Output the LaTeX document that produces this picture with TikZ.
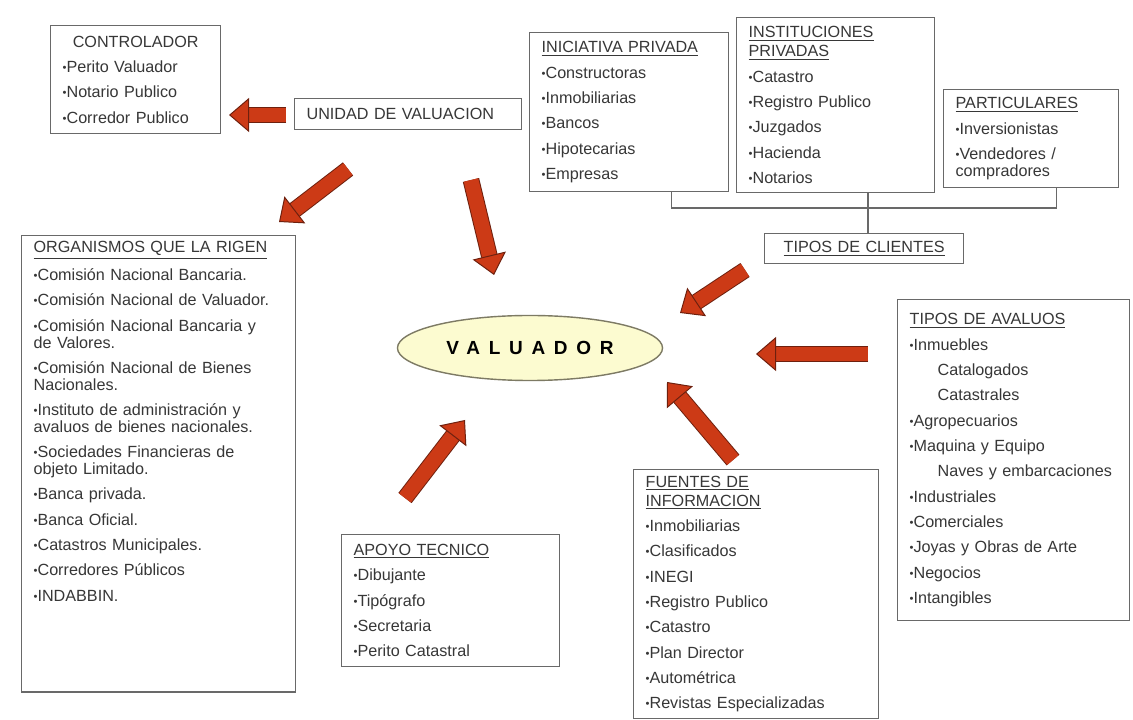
\documentclass[tikz,border=0pt]{standalone}
\usepackage{fontspec}
\setmainfont{Liberation Sans}
\newfontfamily\spacedfont[LetterSpace=46]{Liberation Sans}
\usetikzlibrary{arrows.meta,calc,shapes.geometric}
\definecolor{arrowred}{RGB}{204,58,22}
\definecolor{arrowdark}{RGB}{110,32,14}
\definecolor{boxgray}{RGB}{105,105,105}
\definecolor{textgray}{RGB}{55,55,55}
\definecolor{hubfill}{RGB}{252,251,208}
\definecolor{hubdraw}{RGB}{125,122,100}
\newlength{\itemgap}\setlength{\itemgap}{6pt}
\newcommand{\itembreak}{\\[\itemgap]}
\newcommand{\punto}{\raisebox{0.12ex}{\footnotesize\textbullet}}
\tikzstyle{listbox}=[draw=boxgray,line width=0.9pt,fill=white,anchor=north west,align=left,inner xsep=0.3cm,inner ysep=0.15cm,text=textgray,font=\fontsize{11.5}{12}\selectfont]
\tikzstyle{hubstate}=[ellipse,draw=hubdraw,line width=1pt,fill=hubfill,minimum width=6.625cm,minimum height=1.625cm]
\tikzstyle{bigarrow}=[draw=arrowdark,line width=0.7pt,double=arrowred,double distance=10.5pt,-{Triangle[length=0.5cm,width=0.85cm,fill=arrowred,line width=0.7pt]}]
\tikzstyle{plainedge}=[draw=boxgray,line width=0.9pt]
\begin{document}
\begin{tikzpicture}[x=0.025cm,y=-0.025cm]
 \useasboundingbox (0,0) rectangle (1133,720);
 \fill[white] (0,0) rectangle (1133,720);

 % centre
 \node[hubstate] (valuador) at (530,348) {\spacedfont\bfseries\fontsize{13.5}{15}\selectfont VALUADOR};

 % boxes, top row
 \node[listbox,text width=3.65cm,minimum height=2.7cm] (ctrl) at (50,25)
  {\makebox[\linewidth]{CONTROLADOR}\itembreak
   \punto Perito Valuador\itembreak
   \punto Notario Publico\itembreak
   \punto Corredor Publico};

 \node[listbox,text width=5.075cm,minimum height=0.775cm] (unidad) at (294,98) {UNIDAD DE VALUACION};

 \node[listbox,text width=4.375cm,minimum height=3.975cm] (iniciativa) at (529,32)
  {\underline{INICIATIVA PRIVADA}\itembreak
   \punto Constructoras\itembreak
   \punto Inmobiliarias\itembreak
   \punto Bancos\itembreak
   \punto Hipotecarias\itembreak
   \punto Empresas};

 \node[listbox,text width=4.35cm,minimum height=4.375cm] (instituciones) at (736,17)
  {\underline{INSTITUCIONES}\\[1.5pt] \underline{PRIVADAS}\itembreak
   \punto Catastro\itembreak
   \punto Registro Publico\itembreak
   \punto Juzgados\itembreak
   \punto Hacienda\itembreak
   \punto Notarios};

 \node[listbox,text width=3.775cm,minimum height=2.45cm] (particulares) at (943,89)
  {\underline{PARTICULARES}\itembreak
   \punto Inversionistas\itembreak
   \punto Vendedores /\\ compradores};

 \node[listbox,align=center,text width=4.375cm,minimum height=0.75cm] (clientes) at (764,233) {\underline{TIPOS DE CLIENTES}};

 % left column
 \node[listbox,text width=6.25cm] (organismos) at (21,235)
  {\underline{ORGANISMOS QUE LA RIGEN}\itembreak
   \punto Comisión Nacional Bancaria.\itembreak
   \punto Comisión Nacional de Valuador.\itembreak
   \punto Comisión Nacional Bancaria y\\ de Valores.\itembreak
   \punto Comisión Nacional de Bienes\\ Nacionales.\itembreak
   \punto Instituto de administración y\\ avaluos de bienes nacionales.\itembreak
   \punto Sociedades Financieras de\\ objeto Limitado.\itembreak
   \punto Banca privada.\itembreak
   \punto Banca Oficial.\itembreak
   \punto Catastros Municipales.\itembreak
   \punto Corredores Públicos\itembreak
   \punto INDABBIN.\\[1.7cm]\mbox{}};

 % right column
 \node[listbox,text width=5.2cm,minimum height=8.025cm] (avaluos) at (897,299)
  {\underline{TIPOS DE AVALUOS}\itembreak
   \punto Inmuebles\itembreak
   \hspace*{0.7cm}Catalogados\itembreak
   \hspace*{0.7cm}Catastrales\itembreak
   \punto Agropecuarios\itembreak
   \punto Maquina y Equipo\itembreak
   \hspace*{0.7cm}Naves y embarcaciones\itembreak
   \punto Industriales\itembreak
   \punto Comerciales\itembreak
   \punto Joyas y Obras de Arte\itembreak
   \punto Negocios\itembreak
   \punto Intangibles};

 % bottom row
 \node[listbox,text width=4.85cm,minimum height=3.3cm] (apoyo) at (341,534)
  {\underline{APOYO TECNICO}\itembreak
   \punto Dibujante\itembreak
   \punto Tipógrafo\itembreak
   \punto Secretaria\itembreak
   \punto Perito Catastral};

 \node[listbox,text width=5.525cm,minimum height=6.225cm] (fuentes) at (633,469)
  {\underline{FUENTES DE}\\[1.5pt] \underline{INFORMACION}\itembreak
   \punto Inmobiliarias\itembreak
   \punto Clasificados\itembreak
   \punto INEGI\itembreak
   \punto Registro Publico\itembreak
   \punto Catastro\itembreak
   \punto Plan Director\itembreak
   \punto Autométrica\itembreak
   \punto Revistas Especializadas};

 % client bracket
 \coordinate (bus) at (868,208);
 \draw[plainedge] ([xshift=1.05cm]iniciativa.south) |- (bus) -| ([xshift=0.63cm]particulares.south);
 \draw[plainedge] (instituciones.south -| bus) -- (clientes.north -| bus);

 % arrow ends
 \coordinate (a1s) at (286,115); \coordinate (a1e) at (229,115);
 \coordinate (a2s) at (348,169); \coordinate (a2e) at (279,222);
 \coordinate (a3s) at (471,180); \coordinate (a3e) at (494,275);
 \coordinate (a4s) at (745,270); \coordinate (a4e) at (680,313);
 \coordinate (a5s) at (868,354); \coordinate (a5e) at (756,354);
 \coordinate (a6s) at (733,460); \coordinate (a6e) at (667,382);
 \coordinate (a7s) at (405,498); \coordinate (a7e) at (465,420);

 \path
 (a1s) edge [bigarrow] (a1e)
 (a2s) edge [bigarrow] (a2e)
 (a3s) edge [bigarrow] (a3e)
 (a4s) edge [bigarrow] (a4e)
 (a5s) edge [bigarrow] (a5e)
 (a6s) edge [bigarrow] (a6e)
 (a7s) edge [bigarrow] (a7e);

\end{tikzpicture}
\end{document}
